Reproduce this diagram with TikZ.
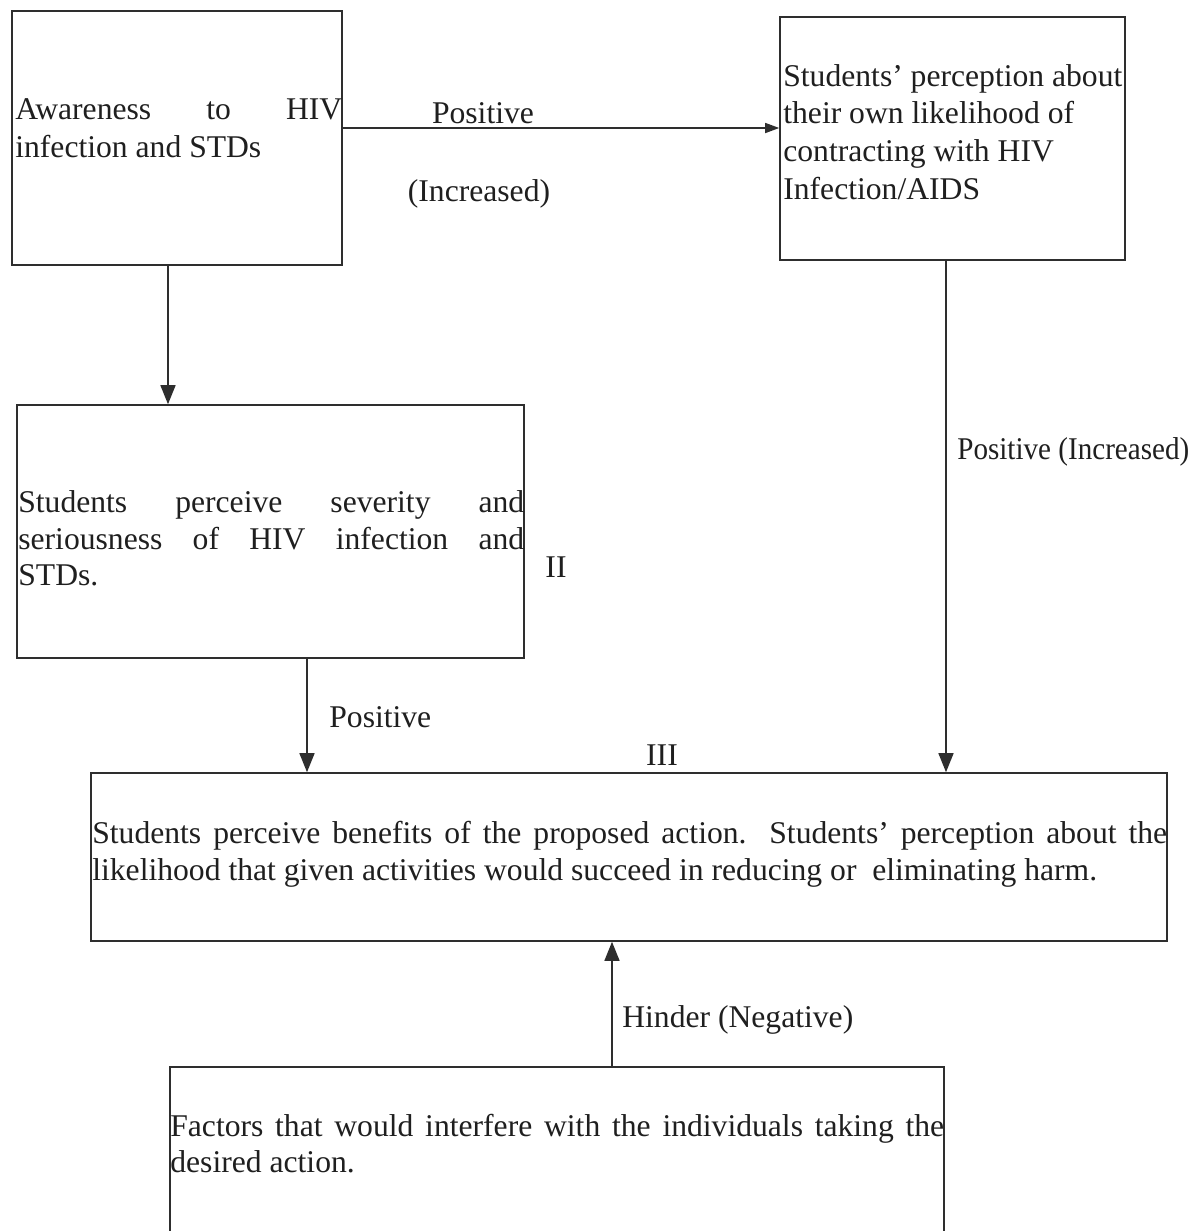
\documentclass[tikz,border=0pt]{standalone}
\usepackage{fontspec}
\usepackage{graphicx}
\setmainfont{Liberation Serif}
\usetikzlibrary{fit,arrows.meta}
\begin{document}
\begin{tikzpicture}[x=0.02cm,y=-0.02cm,
  box/.style={draw=black!82,line width=0.9pt,inner sep=0pt,rectangle},
  txt/.style={inner sep=0pt,anchor=base west,text=black!88,font=\fontsize{18}{21.6}\selectfont},
  lbl/.style={inner sep=0pt,anchor=base west,text=black!88,font=\fontsize{18}{21.6}\selectfont},
  conn/.style={draw=black!82,line width=0.8pt},
  arrv/.style={conn,-{Triangle[length=0.38cm,width=0.3cm]}},
  arrh/.style={conn,-{Triangle[length=0.28cm,width=0.2cm]}}]
\useasboundingbox (0,0) rectangle (1196,1231);
\clip (0,0) rectangle (1196,1231);
\fill[white] (0,0) rectangle (1196,1231);

% boxes
\node[box,fit={(12,11) (342,265)}] (b1) {};
\node[box,fit={(780,17) (1125,260)}] (b2) {};
\node[box,fit={(17,405) (524,658)}] (b3) {};
\node[box,fit={(91,773) (1167,941)}] (b4) {};
\node[box,fit={(170,1067) (944,1270)}] (b5) {};

% box texts
\node[txt] (t1a) at (15,119) {\makebox[6.54cm][s]{Awareness to HIV}};
\node[txt] (t1b) at (15,157) {infection and STDs};

\node[txt] (t2a) at (783,86) {Students’ perception about};
\node[txt] (t2b) at (783,123) {their own likelihood of};
\node[txt] (t2c) at (783,161) {contracting with HIV};
\node[txt] (t2d) at (783,199) {Infection/AIDS};

\node[txt] (t3a) at (18,512) {\makebox[10.12cm][s]{Students perceive severity and}};
\node[txt] (t3b) at (18,549) {\makebox[10.12cm][s]{seriousness of HIV infection and}};
\node[txt] (t3c) at (18,585) {STDs.};

\node[txt] (t4a) at (92,843) {\makebox[21.5cm][s]{Students perceive benefits of the proposed action. Students’ perception about the}};
\node[txt] (t4b) at (92,880) {likelihood that given activities would succeed in reducing or \ eliminating harm.};

\node[txt] (t5a) at (170,1136) {\makebox[15.48cm][s]{Factors that would interfere with the individuals taking the}};
\node[txt] (t5b) at (170,1172) {desired action.};

% connector coordinates
\coordinate (h1) at (0,128);
\coordinate (v1) at (168,0);
\coordinate (v2) at (946,0);
\coordinate (v3) at (307,0);
\coordinate (v4) at (612,0);

% connectors
\draw[arrh] (b1.east |- h1) -- (b2.west |- h1);
\draw[arrv] (b1.south -| v1) -- (b3.north -| v1);
\draw[arrv] (b2.south -| v2) -- (b4.north -| v2);
\draw[arrv] (b3.south -| v3) -- (b4.north -| v3);
\draw[arrv] (b5.north -| v4) -- (b4.south -| v4);

% labels
\node[lbl,anchor=base] (l1) at (483,123) {Positive};
\node[lbl,anchor=base] (l2) at (479,201) {(Increased)};
\node[lbl] (l3) at (957,459) {\scalebox{0.92}[1]{Positive (Increased)}};
\node[lbl] (l4) at (329,727) {Positive};
\node[lbl,anchor=base] (l5) at (556,577) {II};
\node[lbl,anchor=base] (l6) at (662,765) {III};
\node[lbl] (l7) at (622,1027) {Hinder (Negative)};
\end{tikzpicture}
\end{document}
